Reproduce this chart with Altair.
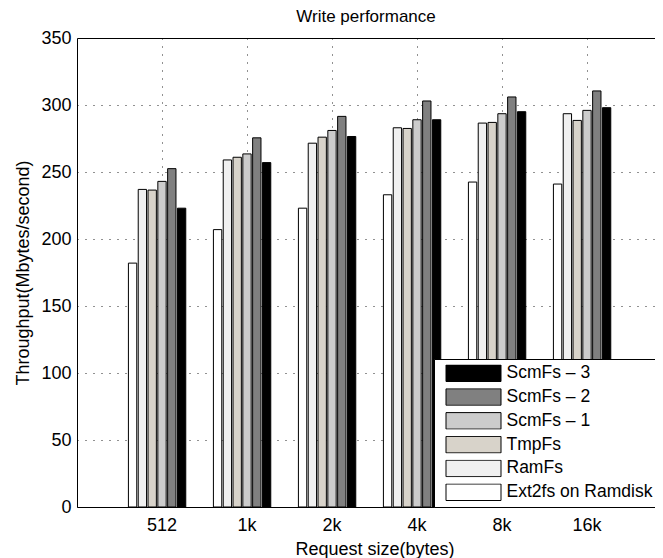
import altair as alt
import pandas as pd

# ---- data ----
sizes = ["512", "1k", "2k", "4k", "8k", "16k"]
series = ["Ext2fs on Ramdisk", "RamFs", "TmpFs", "ScmFs – 1", "ScmFs – 2", "ScmFs – 3"]
ext2fs = [182, 207, 223, 233, 242.5, 241]
ramfs = [237, 259, 271.5, 283, 286.5, 293.5]
tmpfs = [236.5, 261, 276, 282.5, 287, 288.5]
scm1 = [243, 263.5, 281, 289, 293.5, 296]
scm2 = [252.5, 275.5, 291.5, 303, 306, 310.5]
scm3 = [223, 257, 276.5, 289, 295, 298]
colors = ["#ffffff", "#f0f0f0", "#d8d3ca", "#cccccc", "#808080", "#000000"]
y_ticks = [0, 50, 100, 150, 200, 250, 300, 350]

values = [ext2fs, ramfs, tmpfs, scm1, scm2, scm3]
rows = []
for s, vals in zip(series, values):
    for size, v in zip(sizes, vals):
        rows.append({"size": size, "series": s, "value": v})
df = pd.DataFrame(rows)

legend_order = series[::-1]
legend_colors = colors[::-1]

FONT = "Liberation Sans"
TOP = y_ticks[-1]

bars = alt.Chart(df).mark_bar(stroke="black", strokeWidth=1).encode(
    x=alt.X(
        "size:N",
        sort=sizes,
        scale=alt.Scale(domain=sizes, paddingInner=0, paddingOuter=0.5, range=[0, 595]),
        axis=alt.Axis(
            title="Request size(bytes)",
            labelAngle=0,
            ticks=False,
            tickSize=0,
            bandPosition=0.5,
            grid=True,
            gridDash=[1, 7],
            gridColor="#222222",
            gridOpacity=1,
            domainColor="black",
            domainWidth=1,
            labelPadding=9,
            titlePadding=6,
        ),
    ),
    xOffset=alt.XOffset(
        "series:N",
        scale=alt.Scale(domain=series + ["_"], paddingInner=0.15, paddingOuter=0.91),
    ),
    y=alt.Y(
        "value:Q",
        scale=alt.Scale(domain=[0, TOP], nice=False),
        axis=alt.Axis(
            title="Throughput(Mbytes/second)",
            values=y_ticks,
            ticks=False,
            tickSize=0,
            grid=True,
            gridDash=alt.condition(f"datum.value == {TOP}", alt.value([]), alt.value([1, 7])),
            gridColor=alt.condition(f"datum.value == {TOP}", alt.value("black"), alt.value("#222222")),
            gridOpacity=1,
            domainColor="black",
            domainWidth=1,
            labelPadding=6,
            titlePadding=8,
        ),
    ),
    color=alt.Color(
        "series:N",
        scale=alt.Scale(domain=legend_order, range=legend_colors),
        legend=alt.Legend(
            title=None,
            orient="none",
            legendX=357,
            legendY=321,
            symbolType="M-1,-0.3H1V0.3H-1Z",
            symbolSize=3025,
            symbolStrokeColor="black",
            symbolStrokeWidth=1,
            symbolOpacity=1,
            symbolOffset=6,
            labelOffset=5,
            labelFontSize=17.5,
            labelFont=FONT,
            labelColor="black",
            strokeColor="black",
            fillColor="white",
            padding=5.5,
            rowPadding=4.8,
            clipHeight=17.5,
        ),
    ),
)

chart = bars.properties(
    width=578,
    height=469,
    title=alt.TitleParams(
        "Write performance", font=FONT, fontSize=17, fontWeight="normal",
        color="black", offset=3, frame="group", anchor="middle",
    ),
    autosize=alt.AutoSizeParams(type="none"),
    padding={"left": 69, "top": 30, "right": 0, "bottom": 51},
).configure_axis(
    labelFont=FONT,
    labelFontSize=18,
    labelColor="black",
    titleFont=FONT,
    titleFontSize=18,
    titleFontWeight="normal",
    titleColor="black",
).configure_view(
    stroke=None,
)

chart.save("out.html", embed_options={"renderer": "svg", "actions": False})
